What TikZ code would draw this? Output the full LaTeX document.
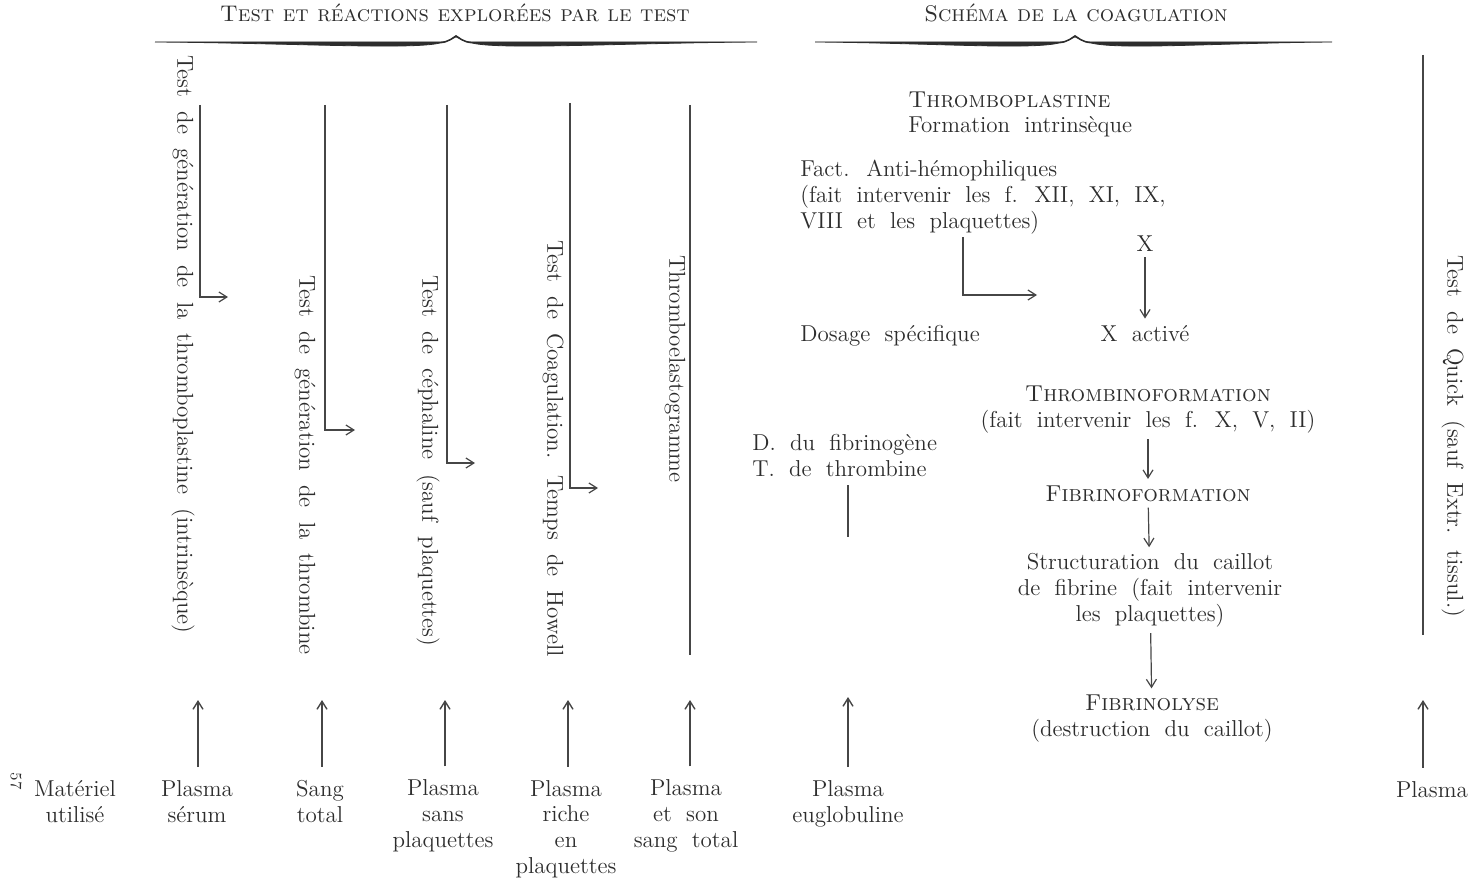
\documentclass[tikz,border=0pt]{standalone}
\usepackage{fontspec}
\usetikzlibrary{arrows.meta}

\definecolor{ink}{RGB}{45,45,45}
\definecolor{rule}{RGB}{70,70,70}

\newcommand{\bodyfont}{\fontsize{11.5}{12.8}\selectfont\spaceskip=0.62em plus 0.1em\relax}

% curly header brace: left end, tip, right end, base line
\newcommand{\headbrace}[4]{%
  \filldraw[ink, line width=0.4pt] (#1,#4) -- ({#2-16},#4)
    .. controls ({#2-7},#4) and ({#2-3},{#4-5}) .. (#2,{#4-6.5})
    .. controls ({#2+3},{#4-5}) and ({#2+7},#4) .. ({#2+16},#4) -- (#3,#4)
    .. controls ({#3-0.45*(#3-#2)},{#4+1}) and ({#2+45},{#4+8}) .. ({#2+16},{#4+1})
    .. controls ({#2+8},{#4+0.8}) and ({#2+3},{#4-4}) .. (#2,{#4-5.2})
    .. controls ({#2-3},{#4-4}) and ({#2-8},{#4+0.8}) .. ({#2-16},{#4+1})
    .. controls ({#2-45},{#4+8}) and ({#1+0.45*(#2-#1)},{#4+1}) .. (#1,#4) -- cycle;}

\begin{document}
\begin{tikzpicture}[x=0.5pt, y=-0.5pt,
  every node/.style={font=\bodyfont, text=ink, inner sep=0pt},
  head/.style={anchor=base, font=\fontsize{11.3}{12.8}\selectfont},
  vtext/.style={rotate=-90, anchor=west},
  lbl/.style={align=center, anchor=base},
  hook/.style={draw=rule, line width=0.6pt, -{Straight Barb[length=4pt,width=5pt]}},
  plain/.style={draw=rule, line width=0.6pt},
  up/.style={draw=rule, line width=0.7pt, shorten <=6.5pt, -{Straight Barb[length=4pt,width=5pt]}},
  down/.style={draw=rule, line width=0.6pt, shorten <=3pt, shorten >=3pt, -{Straight Barb[length=4pt,width=5pt]}}]
\useasboundingbox (0,0) rectangle (1471,883);

% headers
\node[head] (hdl) at (455,22) {\textsc{Test et réactions explorées par le test}};
\node[head] (hdr) at (1076,22) {\textsc{Schéma de la coagulation}};
\headbrace{155}{456}{757}{42}
\headbrace{815}{1075}{1332}{42}

% tests
\node[vtext] (t1) at (183,55) {Test de génération de la thromboplastine (intrinsèque)};
\node[vtext] (t2) at (305,275) {Test de génération de la thrombine};
\node[vtext] (t3) at (428,275) {Test de céphaline (sauf plaquettes)};
\node[vtext] (t4) at (553,240) {Test de Coagulation. Temps de Howell};
\node[vtext] (t5) at (675,255) {Thromboelastogramme};
\node[vtext] (t6) at (1453,255) {Test de Quick (sauf Extr. tissul.)};

\coordinate (a1) at (200,105); \coordinate (b1) at (228,297);
\coordinate (a2) at (325,105); \coordinate (b2) at (355,430);
\coordinate (a3) at (447,105); \coordinate (b3) at (475,463);
\coordinate (a4) at (570,103); \coordinate (b4) at (598,488);
\coordinate (a5) at (690,105); \coordinate (b5) at (690,655);
\coordinate (a6) at (1423,55); \coordinate (b6) at (1423,635);
\draw[hook] (a1) |- (b1);
\draw[hook] (a2) |- (b2);
\draw[hook] (a3) |- (b3);
\draw[hook] (a4) |- (b4);
\draw[plain] (a5) -- (b5);
\draw[plain] (a6) -- (b6);

% schema (base = last line)
\node[anchor=base west, align=left] (thr) at (908,133) {\textsc{Thromboplastine}\\Formation intrinsèque};
\node[anchor=base west, align=left] (fact) at (800,228) {Fact. Anti-hémophiliques\\(fait intervenir les f. XII, XI, IX,\\VIII et les plaquettes)};
\node[anchor=base] (x) at (1145,251) {X};
\node[anchor=base west] (dos) at (800,341) {Dosage spécifique};
\node[anchor=base] (xa) at (1145,341) {X activé};
\node[lbl] (thb) at (1148,427) {\textsc{Thrombinoformation}\\(fait intervenir les f. X, V, II)};
\node[anchor=base] (fib) at (1148,501) {\textsc{Fibrinoformation}};
\node[lbl] (str) at (1150,621) {Structuration du caillot\\de fibrine (fait intervenir\\les plaquettes)};
\node[lbl] (lys) at (1152,736) {\textsc{Fibrinolyse}\\(destruction du caillot)};
\node[anchor=base west, align=left] (dfib) at (752,476) {D. du fibrinogène\\T. de thrombine};

\coordinate (f1) at (963,237); \coordinate (f2) at (1037,295);
\draw[hook] (f1) |- (f2);
\draw[down] (x) -- (xa);
\draw[down] (thb) -- (fib);
\draw[down] (fib) -- (str);
\draw[down] (str) -- (lys);
\coordinate (d1) at (848,485); \coordinate (d2) at (848,537);
\draw[plain] (d1) -- (d2);

% material
\node[rotate=-90, font=\fontsize{8}{9}\selectfont] (pg) at (16,781) {57};
\node[lbl] (m0) at (75,822) {Matériel\\utilisé};
\node[lbl] (m1) at (197,822) {Plasma\\sérum};
\node[lbl] (m2) at (320,822) {Sang\\total};
\node[lbl] (m3) at (443,847) {Plasma\\sans\\plaquettes};
\node[lbl] (m4) at (566,873) {Plasma\\riche\\en\\plaquettes};
\node[lbl] (m5) at (686,847) {Plasma\\et son\\sang total};
\node[lbl] (m6) at (848,822) {Plasma\\euglobuline};
\node[lbl] (m7) at (1432,797) {Plasma};

\coordinate (u1) at (198,700);
\coordinate (u2) at (322,700);
\coordinate (u3) at (445,700);
\coordinate (u4) at (568,700);
\coordinate (u5) at (690,700);
\coordinate (u6) at (848,697);
\coordinate (u7) at (1423,700);
\draw[up] (m1.north -| u1) -- (u1);
\draw[up] (m2.north -| u2) -- (u2);
\draw[up] (m3.north -| u3) -- (u3);
\draw[up] (m4.north -| u4) -- (u4);
\draw[up] (m5.north -| u5) -- (u5);
\draw[up] (m6.north -| u6) -- (u6);
\draw[up] (m7.north -| u7) -- (u7);
\end{tikzpicture}
\end{document}
